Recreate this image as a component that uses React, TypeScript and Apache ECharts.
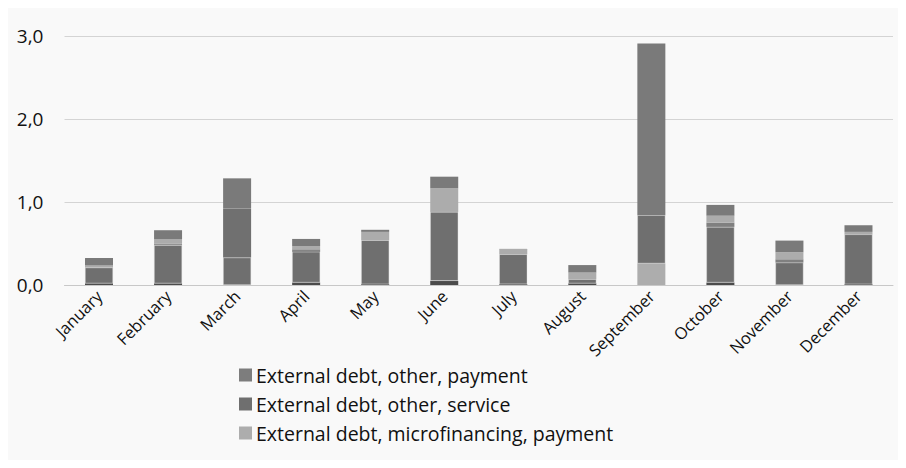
import React, { useEffect, useRef } from "react";
import * as echarts from "echarts";

const months = ["January", "February", "March", "April", "May", "June", "July", "August", "September", "October", "November", "December"];
const yTicks = [0, 1, 2, 3];

// bottom to top
const darkBase = [0.02, 0.02, 0, 0.03, 0.01, 0.05, 0.01, 0.02, 0, 0.03, 0, 0.01];
const microPayment = [0, 0, 0, 0, 0, 0, 0, 0, 0.26, 0, 0, 0];
const otherService = [0.19, 0.46, 0.33, 0.37, 0.53, 0.83, 0.36, 0.05, 0.58, 0.67, 0.27, 0.6];
const otherServiceB = [0, 0.01, 0.59, 0.01, 0, 0, 0, 0, 0, 0, 0, 0];
const midBand = [0, 0.01, 0, 0.02, 0, 0, 0, 0, 0, 0.05, 0.04, 0];
const lightBand = [0.025, 0.05, 0, 0.04, 0.1, 0.285, 0.06, 0.08, 0, 0.085, 0.085, 0.03];
const otherPayment = [0.09, 0.11, 0.365, 0.085, 0.025, 0.14, 0.005, 0.09, 2.07, 0.13, 0.14, 0.08];

export default function App() {
  const ref = useRef<HTMLDivElement>(null);
  useEffect(() => {
    if (!ref.current) return;
    const chart = echarts.init(ref.current, null, { renderer: "svg" });
    const font = "Open Sans";
    const mk = (name: string, data: number[], color: string, bw = 0) => ({
      name,
      type: "bar",
      stack: "total",
      data,
      barWidth: 28,
      itemStyle: { color, borderColor: "rgba(225,225,225,0.8)", borderWidth: bw },
      emphasis: { disabled: true },
    });
    chart.setOption({
      animation: false,
      backgroundColor: "#f9f9f9",
      textStyle: { fontFamily: font },
      grid: { left: 56.5, right: 5, top: 28, bottom: 175, containLabel: false },
      legend: {
        orient: "vertical",
        left: 226,
        top: 352,
        itemWidth: 13,
        itemHeight: 13,
        itemGap: 9,
        icon: "rect",
        data: [
          { name: "External debt, other, payment", itemStyle: { color: "#7d7d7d", borderWidth: 0 } },
          { name: "External debt, other, service", itemStyle: { color: "#6f6f6f", borderWidth: 0 } },
          { name: "External debt, microfinancing, payment", itemStyle: { color: "#adadad", borderWidth: 0 } },
        ],
        textStyle: { fontFamily: font, fontSize: 19.5, color: "#111", padding: [0, 0, 0, -1] },
      },
      xAxis: {
        type: "category",
        data: months,
        axisLine: { lineStyle: { color: "#c8c8c8", width: 1 } },
        axisTick: { show: false },
        axisLabel: { rotate: 45, fontSize: 16.5, color: "#111", fontFamily: font, margin: 8, interval: 0 },
      },
      yAxis: {
        type: "value",
        min: 0,
        max: yTicks[yTicks.length - 1],
        interval: 1,
        axisLine: { show: false },
        axisTick: { show: false },
        splitLine: { lineStyle: { color: "#d4d4d4", width: 1 } },
        axisLabel: {
          fontSize: 19,
          color: "#111",
          fontFamily: font,
          margin: 21,
          formatter: (v: number) => v.toFixed(1).replace(".", ","),
        },
      },
      series: [
        mk("Dark base", darkBase, "#4b4b4b"),
        mk("External debt, microfinancing, payment", microPayment, "#adadad"),
        mk("External debt, other, service", otherService, "#6f6f6f", 0.5),
        mk("Other service B", otherServiceB, "#707070"),
        mk("Mid band", midBand, "#808080"),
        mk("Light band", lightBand, "#acacac"),
        mk("External debt, other, payment", otherPayment, "#7a7a7a"),
      ],
    });
    return () => chart.dispose();
  }, []);
  return <div ref={ref} style={{ width: 890, height: 452 }} />;
}
